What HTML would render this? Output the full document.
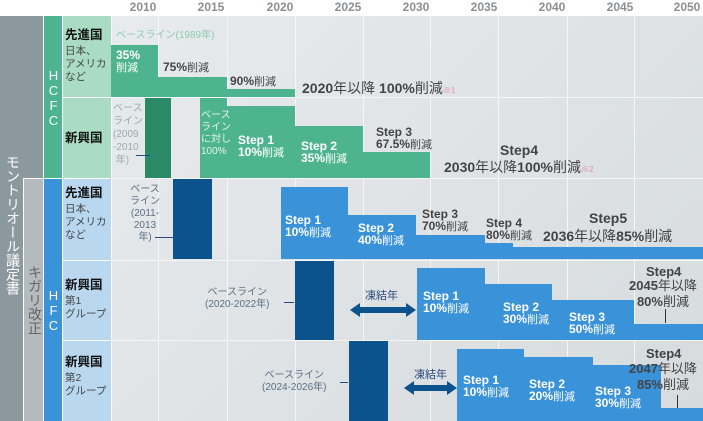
<!DOCTYPE html>
<html><head><meta charset="utf-8"><style>
*{margin:0;padding:0;box-sizing:border-box}
body{width:703px;height:421px;overflow:hidden;background:#fff;font-family:"Liberation Sans","Noto Sans CJK JP",sans-serif;position:relative}
div{position:absolute}
.yr{top:0;font-size:12px;font-weight:bold;color:#8a8f93;width:40px;text-align:center}
.g{background:#4db48f}.dg{background:#2a8a68}.b{background:#3a92d8}.db{background:#0c528d}
.t{font-size:11px;line-height:12px;white-space:nowrap}
.w{color:#fff}.k{color:#444}
.bl{font-weight:bold;font-size:12px}
.gl{width:1px;background:#f4f6f7;top:16px;height:405px}
.hl{height:1px;background:#f4f6f7;left:111px;width:592px}
.vt{writing-mode:vertical-rl;text-orientation:upright;font-size:13px}
.lab{font-size:10.5px;line-height:13px;color:#444}
.lab b{font-size:12.5px;color:#111;display:block;margin-bottom:3px}
.bt{color:#5a6f85;font-size:10px;line-height:12px;text-align:center}
.gt{color:#fff;font-size:10px;line-height:12px;opacity:.85}
</style></head><body>
<div style="left:111px;top:16px;width:592px;height:405px;background:linear-gradient(135deg,#e8ebed,#d6dbde)"></div>
<div class="yr" style="left:123px">2010</div><div class="yr" style="left:191px">2015</div><div class="yr" style="left:260px">2020</div><div class="yr" style="left:328px">2025</div><div class="yr" style="left:396px">2030</div><div class="yr" style="left:464px">2035</div><div class="yr" style="left:532px">2040</div><div class="yr" style="left:600px">2045</div><div class="yr" style="left:667px">2050</div>
<div class="gl" style="left:158px"></div><div class="gl" style="left:227px"></div><div class="gl" style="left:295px"></div><div class="gl" style="left:363px"></div><div class="gl" style="left:430px"></div><div class="gl" style="left:498px"></div><div class="gl" style="left:567px"></div><div class="gl" style="left:634px"></div>
<div class="hl" style="top:97px"></div><div class="hl" style="top:178px"></div><div class="hl" style="top:260px"></div><div class="hl" style="top:340px"></div>
<div style="left:0;top:16px;width:43px;height:405px;background:#8b999f"></div>
<div style="left:24px;top:179px;width:19px;height:242px;background:#b3bbbf"></div>
<div style="left:23px;top:179px;width:1px;height:242px;background:#fff"></div>
<div style="top:178px;height:1px;background:#fff;left:23px;width:20px"></div>
<div class="vt" style="left:3px;top:155px;color:#fff;font-size:14px">モントリオール議定書</div>
<div class="vt" style="left:25px;top:265px;color:#666;font-size:14px">キガリ改正</div>
<div class="g" style="left:43px;top:16px;width:19px;height:162px"></div>
<div class="vt" style="left:46px;top:68px;color:#fff">HCFC</div>
<div style="left:43px;top:179px;width:19px;height:242px;background:#3a92d8"></div>
<div class="vt" style="left:46px;top:288px;color:#fff">HFC</div>
<div style="left:62px;top:16px;width:49px;height:162px;background:#a9dcc3"></div>
<div style="left:62px;top:97px;width:49px;height:1px;background:#fff"></div>
<div style="left:62px;top:179px;width:49px;height:242px;background:#b9d8f0"></div>
<div style="left:62px;top:260px;width:49px;height:1px;background:#fff"></div><div style="left:62px;top:340px;width:49px;height:1px;background:#fff"></div>
<div style="left:43px;top:16px;width:1px;height:405px;background:#fff"></div><div style="left:62px;top:16px;width:1px;height:405px;background:#fff"></div><div style="left:111px;top:16px;width:1px;height:405px;background:#fff"></div>
<div class="lab" style="left:65px;top:29px"><b>先進国</b>日本、<br>アメリカ<br>など</div>
<div class="lab" style="left:65px;top:132px"><b>新興国</b></div>
<div class="lab" style="left:65px;top:187px"><b>先進国</b>日本、<br>アメリカ<br>など</div>
<div class="lab" style="left:65px;top:279px"><b>新興国</b>第1<br>グループ</div>
<div class="lab" style="left:65px;top:356px"><b>新興国</b>第2<br>グループ</div>
<div class="g" style="left:111px;top:45px;width:47px;height:52px"></div>
<div class="g" style="left:158px;top:77px;width:69px;height:20px"></div>
<div class="g" style="left:227px;top:89px;width:68px;height:8px"></div>
<div class="t" style="left:116px;top:30px;color:#8cc9b0;font-size:10px">ベースライン(1989年)</div>
<div class="t w" style="left:116px;top:49px"><b style="font-size:12px">35%</b><br>削減</div>
<div class="t k" style="left:163px;top:61px"><b style="font-size:12px">75%</b>削減</div>
<div class="t k" style="left:230px;top:75px"><b style="font-size:12px">90%</b>削減</div>
<div class="t" style="left:302px;top:80px;font-size:14px;color:#444;line-height:16px"><b>2020</b>年以降 <b>100%</b>削減<span style="color:#e28c9a;font-size:8px">※1</span></div>
<div class="dg" style="left:145px;top:98px;width:26px;height:80px"></div>
<div class="t" style="left:113px;top:102px;color:#9aa;font-size:10px;line-height:13px">ベース<br>ライン<br>(2009<br>-2010<br>&nbsp;年)</div>
<div style="left:136px;top:155px;width:14px;height:1px;background:#2a4a7a"></div>
<div class="g" style="left:200px;top:98px;width:27px;height:80px"></div>
<div class="g" style="left:227px;top:106px;width:68px;height:72px"></div>
<div class="g" style="left:295px;top:126px;width:68px;height:52px"></div>
<div class="g" style="left:363px;top:152px;width:67px;height:26px"></div>
<div class="gt" style="left:201px;top:110px">ベース<br>ライン<br>に対し<br>100%</div>
<div class="t w bl" style="left:238px;top:134px">Step 1<br>10%<span style="font-weight:normal;font-size:11px">削減</span></div>
<div class="t w bl" style="left:301px;top:140px">Step 2<br>35%<span style="font-weight:normal;font-size:11px">削減</span></div>
<div class="t k bl" style="left:376px;top:126px">Step 3<br>67.5%<span style="font-weight:normal;font-size:11px">削減</span></div>
<div class="t k" style="left:500px;top:144px;font-size:14px;font-weight:bold">Step4</div>
<div class="t k" style="left:444px;top:159px;font-size:14px;line-height:16px"><b>2030</b>年以降<b>100%</b>削減<span style="color:#e28c9a;font-size:8px">※2</span></div>
<div class="db" style="left:173px;top:179px;width:39px;height:80px"></div>
<div class="bt" style="left:130px;top:184px">ベース<br>ライン<br>(2011-<br>2013<br>年)</div>
<div style="left:155px;top:237px;width:26px;height:1px;background:#2a4a7a"></div>
<div class="b" style="left:281px;top:187px;width:67px;height:72px"></div>
<div class="b" style="left:348px;top:215px;width:68px;height:44px"></div>
<div class="b" style="left:416px;top:235px;width:69px;height:24px"></div>
<div class="b" style="left:485px;top:243px;width:28px;height:16px"></div>
<div class="b" style="left:513px;top:247px;width:190px;height:12px"></div>
<div class="t w bl" style="left:285px;top:214px">Step 1<br>10%<span style="font-weight:normal;font-size:11px">削減</span></div>
<div class="t w bl" style="left:358px;top:222px">Step 2<br>40%<span style="font-weight:normal;font-size:11px">削減</span></div>
<div class="t k bl" style="left:422px;top:208px">Step 3<br>70%<span style="font-weight:normal;font-size:11px">削減</span></div>
<div class="t k bl" style="left:486px;top:217px">Step 4<br>80%<span style="font-weight:normal;font-size:11px">削減</span></div>
<div class="t k" style="left:589px;top:212px;font-size:14px;font-weight:bold">Step5</div>
<div class="t k" style="left:543px;top:228px;font-size:14px;line-height:16px"><b>2036</b>年以降<b>85%</b>削減</div>
<div class="db" style="left:295px;top:261px;width:39px;height:79px"></div>
<div class="bt" style="left:205px;top:287px">ベースライン<br>(2020-2022年)</div>
<div style="left:284px;top:302px;width:10px;height:1px;background:#2a4a7a"></div>
<svg style="position:absolute;left:350px;top:302px" width="66" height="16"><path d="M0 8 L10 1 L10 5 L56 5 L56 1 L66 8 L56 15 L56 11 L10 11 L10 15Z" fill="#0c528d"/></svg>
<div class="t" style="left:365px;top:290px;color:#2a4a7a;font-size:11px">凍結年</div>
<div class="b" style="left:417px;top:268px;width:68px;height:72px"></div>
<div class="b" style="left:485px;top:284px;width:67px;height:56px"></div>
<div class="b" style="left:552px;top:300px;width:82px;height:40px"></div>
<div class="b" style="left:634px;top:324px;width:69px;height:16px"></div>
<div class="t w bl" style="left:423px;top:290px">Step 1<br>10%<span style="font-weight:normal;font-size:11px">削減</span></div>
<div class="t w bl" style="left:503px;top:301px">Step 2<br>30%<span style="font-weight:normal;font-size:11px">削減</span></div>
<div class="t w bl" style="left:569px;top:311px">Step 3<br>50%<span style="font-weight:normal;font-size:11px">削減</span></div>
<div class="t k" style="left:646px;top:264px;font-size:13px;line-height:16px"><b>Step4</b></div>
<div class="t k" style="left:629px;top:278px;font-size:13px;line-height:16px;text-align:center"><b>2045</b>年以降<br><b>80%</b>削減</div>
<div style="left:665px;top:309px;width:1px;height:14px;background:#333"></div>
<div class="db" style="left:349px;top:341px;width:39px;height:80px"></div>
<div class="bt" style="left:262px;top:370px">ベースライン<br>(2024-2026年)</div>
<div style="left:340px;top:382px;width:8px;height:1px;background:#2a4a7a"></div>
<svg style="position:absolute;left:404px;top:380px" width="53" height="16"><path d="M0 8 L10 1 L10 5 L43 5 L43 1 L53 8 L43 15 L43 11 L10 11 L10 15Z" fill="#0c528d"/></svg>
<div class="t" style="left:414px;top:369px;color:#2a4a7a;font-size:11px">凍結年</div>
<div class="b" style="left:457px;top:349px;width:67px;height:72px"></div>
<div class="b" style="left:524px;top:357px;width:69px;height:64px"></div>
<div class="b" style="left:593px;top:365px;width:68px;height:56px"></div>
<div class="b" style="left:661px;top:408px;width:42px;height:13px"></div>
<div class="t w bl" style="left:463px;top:374px">Step 1<br>10%<span style="font-weight:normal;font-size:11px">削減</span></div>
<div class="t w bl" style="left:529px;top:378px">Step 2<br>20%<span style="font-weight:normal;font-size:11px">削減</span></div>
<div class="t w bl" style="left:595px;top:385px">Step 3<br>30%<span style="font-weight:normal;font-size:11px">削減</span></div>
<div class="t k" style="left:646px;top:346px;font-size:13px;line-height:16px"><b>Step4</b></div>
<div class="t k" style="left:629px;top:361px;font-size:13px;line-height:16px;text-align:center"><b>2047</b>年以降<br><b>85%</b>削減</div>
<div style="left:677px;top:395px;width:1px;height:13px;background:#333"></div>
</body></html>
